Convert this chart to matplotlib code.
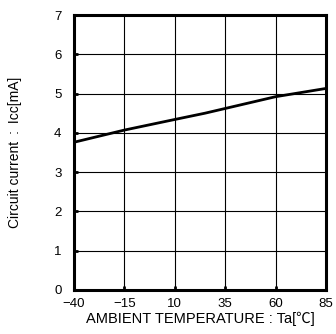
import matplotlib
matplotlib.use("Agg")
import matplotlib.pyplot as plt

# Circuit current vs ambient temperature
temp = [-40, -15, 10, 25, 35, 50, 60, 85]
icc = [3.76, 4.07, 4.34, 4.50, 4.62, 4.80, 4.92, 5.13]

x_ticks = [-40, -15, 10, 35, 60, 85]
y_ticks = [0, 1, 2, 3, 4, 5, 6, 7]

plt.rcParams['font.family'] = ['Liberation Sans', 'Noto Sans CJK JP', 'DejaVu Sans']

fig = plt.figure(figsize=(3.36, 3.34), dpi=100)
ax = fig.add_axes([0.220, 0.132, 0.750, 0.823])

ax.plot(temp, icc, color="black", lw=2.0, solid_joinstyle="round")

ax.set_xlim(-40, 85)
ax.set_ylim(0, 7)
ax.set_xticks(x_ticks)
ax.set_yticks(y_ticks)
ax.set_xticklabels([str(t).replace("-", "\u2212") for t in x_ticks])
ax.grid(True, color="black", lw=0.8)
ax.set_axisbelow(True)

for sp in ax.spines.values():
    sp.set_linewidth(2.2)
ax.tick_params(direction="in", length=3, width=2, labelsize=9.5)
ax.tick_params(axis="y", pad=9)
ax.tick_params(axis="x", pad=6)

ax.set_xlabel("AMBIENT TEMPERATURE : Ta[℃]", fontsize=10.5, labelpad=1)
ax.set_ylabel("Circuit current\u2002:\u2002Icc[mA]", fontsize=10)
ax.yaxis.set_label_coords(-0.205, 0.5)

fig.savefig("out.png", dpi=100)
